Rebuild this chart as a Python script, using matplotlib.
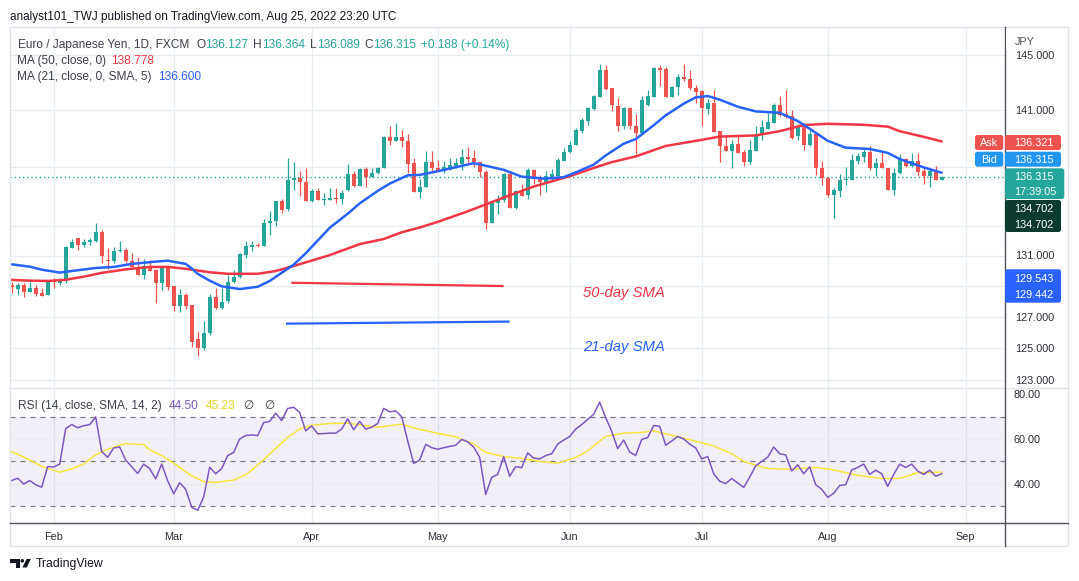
import numpy as np
import pandas as pd
import matplotlib
matplotlib.use('Agg')
import matplotlib.pyplot as plt
from matplotlib.patches import Rectangle, FancyBboxPatch, Polygon, Circle
from matplotlib.ticker import NullLocator

plt.rcParams['font.family'] = ['Liberation Sans', 'DejaVu Sans']

# ---------------- data ----------------
dates = pd.bdate_range('2022-01-21', '2022-08-26')

opens = [129.07, 128.83, 129.07, 128.63, 128.89, 128.53, 128.44, 129.33, 129.22, 129.33,
         131.49, 132.18, 131.69, 131.91, 131.95, 132.60, 130.73, 130.62, 131.29, 131.40,
         130.64, 130.22, 129.75, 130.33, 130.02, 129.22, 130.24, 129.00, 127.73, 128.42,
         127.77, 125.61, 125.04, 125.95, 128.31, 127.56, 128.05, 129.24, 129.58, 131.02,
         131.55, 131.73, 131.62, 133.15, 133.29, 134.63, 134.09, 136.07, 136.25, 135.98,
         134.65, 135.35, 134.72, 134.76, 134.90, 134.83, 135.44, 136.50, 135.71, 136.84,
         136.30, 136.57, 136.91, 139.08, 138.78, 139.08, 138.78, 137.25, 135.30, 135.60,
         137.37, 136.91, 136.73, 136.91, 137.07, 137.20, 137.68, 137.60, 137.33, 136.64,
         133.16, 134.54, 134.70, 136.52, 134.20, 135.33, 135.10, 136.80, 136.20, 135.94,
         136.17, 136.35, 137.44, 138.07, 138.50, 139.53, 140.25, 141.07, 141.93, 143.88,
         142.60, 141.28, 139.90, 141.16, 139.88, 139.40, 141.35, 141.93, 144.00, 143.93,
         141.93, 142.63, 143.40, 143.20, 142.55, 142.33, 141.07, 141.47, 139.53, 138.48,
         138.14, 138.60, 138.03, 137.37, 138.14, 139.25, 139.67, 140.10, 141.35, 140.70,
         140.58, 139.14, 139.95, 138.52, 139.30, 136.90, 136.23, 135.05, 135.37, 136.07,
         136.12, 137.40, 137.70, 138.07, 136.90, 137.28, 136.90, 135.44, 136.60, 137.54,
         137.10, 137.43, 136.73, 136.35, 136.73, 136.127]
highs = [129.29, 129.22, 129.18, 129.29, 129.07, 128.85, 129.40, 129.55, 129.55, 131.62,
         132.13, 132.18, 132.07, 132.18, 133.20, 132.69, 131.47, 131.58, 132.00, 131.53,
         131.18, 130.91, 130.80, 130.73, 130.11, 130.33, 130.30, 129.00, 128.79, 128.53,
         127.77, 126.11, 126.74, 128.48, 128.85, 128.90, 129.69, 130.07, 131.18, 132.00,
         132.00, 131.84, 133.41, 133.97, 134.69, 134.83, 137.60, 137.37, 136.73, 136.93,
         135.50, 135.55, 135.20, 135.55, 135.55, 135.44, 137.20, 136.73, 136.95, 136.98,
         136.96, 137.00, 139.18, 139.83, 140.10, 139.60, 139.30, 137.60, 136.20, 138.08,
         138.08, 137.50, 137.40, 137.60, 137.60, 138.24, 138.38, 138.17, 137.33, 136.80,
         134.60, 135.10, 136.60, 136.68, 135.44, 135.83, 136.90, 136.84, 136.45, 136.70,
         136.84, 137.60, 138.35, 138.78, 139.70, 140.40, 141.23, 142.07, 144.28, 144.23,
         142.60, 141.86, 141.23, 141.23, 140.70, 142.00, 142.45, 144.07, 144.23, 144.07,
         142.75, 143.57, 144.28, 143.88, 142.80, 142.40, 141.77, 142.40, 139.53, 139.18,
         138.85, 139.25, 138.17, 138.90, 139.88, 140.30, 140.77, 141.47, 142.00, 142.40,
         141.00, 140.00, 140.07, 139.60, 139.35, 137.40, 136.30, 135.55, 136.50, 137.00,
         137.87, 137.94, 138.38, 138.45, 137.65, 138.07, 136.90, 136.95, 137.90, 137.65,
         138.00, 138.00, 137.02, 136.90, 137.07, 136.364]
lows = [128.57, 128.42, 128.31, 128.59, 128.37, 128.37, 128.42, 128.89, 129.07, 129.22,
        131.49, 131.40, 131.55, 131.69, 131.91, 130.51, 130.13, 130.51, 131.22, 130.51,
        130.24, 129.75, 129.45, 129.95, 127.92, 128.74, 128.74, 127.40, 127.34, 127.53,
        125.08, 124.54, 124.90, 125.84, 127.52, 127.50, 127.90, 129.20, 129.55, 130.84,
        131.29, 131.55, 131.62, 132.40, 133.00, 133.86, 134.00, 135.40, 134.99, 134.65,
        134.60, 134.70, 134.38, 134.76, 134.54, 134.47, 135.35, 135.60, 135.70, 135.60,
        136.30, 136.50, 136.90, 138.50, 138.78, 138.40, 136.57, 135.30, 134.90, 135.60,
        136.60, 136.70, 136.60, 136.80, 136.95, 136.80, 137.20, 137.00, 136.28, 132.80,
        133.16, 133.80, 134.60, 134.20, 134.10, 134.99, 134.77, 135.80, 135.10, 135.30,
        136.10, 136.35, 137.40, 138.00, 138.50, 139.40, 139.95, 141.00, 141.90, 142.40,
        140.90, 139.50, 139.67, 139.67, 137.90, 139.30, 141.30, 141.93, 142.75, 141.93,
        141.90, 142.05, 143.10, 142.45, 141.47, 139.90, 140.70, 139.47, 137.37, 138.10,
        136.90, 138.00, 137.10, 137.20, 138.10, 138.85, 139.67, 140.07, 140.60, 140.40,
        138.95, 138.90, 138.19, 138.45, 136.45, 135.73, 134.95, 133.50, 134.95, 135.73,
        136.12, 137.20, 137.37, 136.80, 136.40, 136.90, 135.40, 135.10, 136.50, 136.98,
        137.00, 136.40, 135.80, 135.60, 136.10, 136.089]
closes = [128.92, 129.07, 128.63, 128.87, 128.50, 128.37, 129.33, 129.25, 129.40, 131.55,
          131.93, 131.69, 131.93, 132.02, 132.60, 130.95, 130.62, 131.33, 131.40, 130.62,
          130.24, 129.75, 130.33, 129.98, 129.22, 130.24, 128.95, 127.73, 128.42, 127.73,
          125.41, 125.04, 125.97, 128.31, 127.56, 127.99, 129.24, 129.62, 131.11, 131.62,
          131.73, 131.62, 133.18, 133.34, 134.63, 134.04, 136.12, 136.25, 135.94, 134.65,
          135.35, 134.70, 134.81, 134.90, 134.83, 135.22, 136.50, 135.71, 136.84, 136.30,
          136.57, 136.91, 139.08, 138.78, 139.08, 138.78, 137.20, 135.30, 135.64, 137.37,
          136.91, 136.73, 136.98, 137.14, 137.26, 137.68, 137.56, 137.33, 136.64, 133.16,
          134.54, 134.81, 136.52, 134.20, 135.33, 134.99, 136.80, 136.17, 135.94, 136.35,
          136.52, 137.45, 138.07, 138.54, 139.60, 140.30, 141.16, 142.00, 143.88, 142.52,
          141.35, 139.90, 141.16, 139.83, 139.40, 141.70, 142.00, 144.00, 143.88, 141.93,
          142.68, 143.40, 143.20, 142.55, 142.27, 141.12, 141.47, 139.47, 138.43, 138.14,
          138.60, 138.00, 137.37, 138.19, 139.25, 139.76, 140.18, 141.35, 140.65, 140.53,
          139.00, 139.76, 138.52, 139.30, 136.90, 136.23, 135.05, 135.44, 136.10, 136.19,
          137.47, 137.73, 138.07, 136.90, 137.28, 136.90, 135.44, 136.57, 137.54, 137.10,
          137.43, 136.68, 136.35, 136.73, 136.127, 136.315]

# moving averages, read at sample bars (bar index, value)
ma21_idx = [0, 3, 5, 8, 10, 14, 17, 20, 24, 26, 29, 30, 31, 33, 35, 38, 41, 43, 47, 49,
            53, 56, 58, 61, 63, 66, 68, 71, 74, 77, 78, 82, 85, 89, 92, 94, 97, 99, 102, 104,
            107, 109, 112, 114, 116, 118, 121, 124, 128, 131, 133, 136, 139, 143, 146, 148, 152, 155]
ma21_val = [130.42, 130.27, 130.07, 129.88, 129.98, 130.18, 130.25, 130.45, 130.60, 130.66,
            130.45, 130.15, 129.80, 129.35, 128.98, 128.80, 128.95, 129.33, 130.40, 131.15,
            132.85, 133.80, 134.50, 135.35, 135.85, 136.42, 136.45, 136.70, 136.98, 137.26,
            137.18, 136.80, 136.33, 136.19, 136.30, 136.62, 137.16, 137.80, 138.62, 138.94,
            139.92, 140.62, 141.45, 141.90, 142.00, 141.74, 141.24, 140.90, 140.80, 140.22,
            139.67, 138.82, 138.34, 138.25, 137.98, 137.55, 136.97, 136.60]
ma50_idx = [0, 3, 6, 9, 12, 15, 19, 23, 26, 29, 33, 36, 41, 44, 47, 53, 58, 62, 65, 68,
            71, 76, 82, 87, 93, 97, 100, 104, 109, 115, 118, 124, 128, 132, 136, 142, 146, 148,
            152, 155]
ma50_val = [129.40, 129.35, 129.33, 129.41, 129.61, 129.86, 130.09, 130.25, 130.25, 130.13,
            129.90, 129.80, 129.80, 129.98, 130.31, 131.03, 131.76, 132.10, 132.55, 132.87,
            133.25, 133.96, 134.90, 135.65, 136.36, 136.93, 137.33, 137.73, 138.46, 138.89,
            139.12, 139.20, 139.50, 139.93, 140.02, 139.95, 139.82, 139.50, 139.10, 138.78]

rsi = [41.5, 42.5, 39.9, 41.5, 39.6, 38.5, 47.7, 47.5, 48.8, 64.6,
       66.4, 65.0, 65.9, 66.4, 69.8, 54.4, 51.8, 56.0, 56.4, 50.6,
       47.7, 44.6, 48.8, 46.8, 42.2, 48.8, 41.4, 35.6, 40.5, 37.6,
       29.6, 28.2, 34.2, 47.4, 44.5, 46.8, 52.6, 54.0, 60.0, 61.5,
       61.8, 61.5, 67.3, 67.8, 71.5, 68.2, 73.6, 74.1, 71.8, 63.6,
       65.8, 62.3, 62.4, 62.6, 62.6, 64.4, 69.0, 64.1, 67.8, 64.4,
       65.2, 66.9, 73.6, 72.1, 72.5, 69.9, 59.2, 49.1, 50.6, 57.6,
       56.1, 55.4, 56.1, 56.7, 57.2, 59.8, 58.7, 56.4, 51.8, 35.3,
       42.9, 44.2, 52.1, 43.4, 47.7, 47.2, 53.8, 51.5, 51.1, 52.6,
       53.4, 57.7, 59.5, 61.1, 64.4, 66.4, 68.7, 71.0, 76.4, 69.5,
       63.4, 55.7, 59.5, 54.2, 52.6, 59.8, 60.6, 66.0, 65.6, 57.2,
       59.1, 61.1, 60.0, 57.7, 56.0, 51.1, 52.2, 44.5, 41.2, 40.1,
       42.4, 40.4, 38.4, 43.0, 48.0, 50.0, 51.9, 56.4, 53.4, 52.9,
       45.7, 48.5, 44.5, 47.6, 39.6, 37.6, 34.0, 35.8, 39.3, 39.6,
       46.2, 47.3, 48.8, 44.2, 46.1, 44.5, 38.9, 44.2, 48.8, 47.3,
       48.8, 45.7, 44.2, 46.1, 43.4, 44.5]
rsi_ma_idx = [0, 3, 5, 8, 10, 12, 14, 16, 18, 19, 22, 23, 25, 27, 30, 32, 34, 37, 39, 41,
              43, 46, 48, 50, 53, 56, 59, 61, 65, 67, 70, 74, 77, 79, 82, 85, 88, 91, 94, 96,
              99, 102, 105, 107, 111, 114, 117, 120, 122, 126, 130, 134, 137, 141, 145, 148,
              151, 155]
rsi_ma_val = [54.4, 50.6, 47.8, 45.2, 46.7, 48.8, 53.0, 55.4, 57.2, 57.9, 57.5, 55.2, 52.6,
              49.2, 43.6, 41.0, 40.6, 41.7, 44.0, 48.3, 53.3, 60.7, 64.4, 66.1, 66.9, 67.0,
              65.9, 65.2, 66.6, 64.9, 63.1, 60.9, 57.8, 54.0, 52.2, 51.3, 50.0, 49.2, 51.8,
              54.7, 61.1, 62.6, 62.9, 63.6, 61.0, 59.0, 56.9, 53.4, 50.0, 46.8, 46.5, 47.3,
              46.2, 43.8, 42.4, 42.4, 45.0, 45.23]

grid_prices = [145, 141, 137, 133, 131, 129, 127, 125, 123]
price_labels = [145, 141, 131, 127, 125, 123]
rsi_labels = [80, 60, 40]
month_names = ['Feb', 'Mar', 'Apr', 'May', 'Jun', 'Jul', 'Aug', 'Sep']
last_price = 136.315
sma50_line = ([46.8, 81.8], [129.21, 129.00])
sma21_line = ([45.9, 82.8], [126.57, 126.70])
ohlc_header = [('O', '136.127'), ('H', '136.364'), ('L', '136.089'), ('C', '136.315')]

# ---------------- style ----------------
GREEN, RED = '#26a69a', '#ef5350'
MA50C, MA21C = '#f23645', '#2962ff'
GRID = '#e8edf3'
TXT = '#2a2e39'
FRAME = '#e0e3eb'
AXL = '#50535e'

W, H = 1079, 581
fig = plt.figure(figsize=(W / 100, H / 100), dpi=100)
fig.patch.set_facecolor('white')
L, R = 10, 1005
TOP, MID, BOT = 27, 388, 522.7


def axrect(y0, y1):
    return [L / W, 1 - y1 / H, (R - L) / W, (y1 - y0) / H]


ax = fig.add_axes(axrect(TOP, MID))
rx = fig.add_axes(axrect(MID, BOT))
for a in (ax, rx):
    for s in a.spines.values():
        s.set_visible(False)
    a.set_xlim(-0.28, 165.55)
    a.set_xticks([])
    a.set_yticks([])
ax.set_yscale('log')
ax.set_ylim(122.52, 147.04)
ax.yaxis.set_major_locator(NullLocator())
ax.yaxis.set_minor_locator(NullLocator())

full = pd.bdate_range('2022-01-21', '2022-09-30')
month_pos = [int(np.argmax(np.asarray(full.month) == m)) for m in range(2, 10)]

for p in grid_prices:
    ax.axhline(p, color=GRID, lw=1, zorder=0)
for m in month_pos:
    ax.axvline(m, color=GRID, lw=1, zorder=0)
    rx.axvline(m, color=GRID, lw=1, zorder=0)

# candles
x = np.arange(len(dates))
o, h, l, c = map(np.asarray, (opens, highs, lows, closes))
cols = np.where(c >= o, GREEN, RED)
ax.vlines(x, l, h, colors=cols, lw=0.9, zorder=2)
body_lo = np.minimum(o, c)
body_h = np.maximum(np.abs(c - o), 0.03)
ax.bar(x, body_h, bottom=body_lo, width=0.7, color=cols, lw=0, zorder=3)

ax.plot(ma50_idx, ma50_val, color=MA50C, lw=1.8, zorder=4, solid_capstyle='round')
ax.plot(ma21_idx, ma21_val, color=MA21C, lw=1.8, zorder=4, solid_capstyle='round')
ax.axhline(last_price, color=GREEN, lw=1.0, ls=(0, (1, 2)), zorder=1)
ax.plot(*sma50_line, color=MA50C, lw=1.6, zorder=4)
ax.plot(*sma21_line, color=MA21C, lw=1.6, zorder=4)

# RSI pane
rx.set_ylim(22.7, 82.7)
rx.axhspan(30, 70, color='#7e57c2', alpha=0.09, lw=0, zorder=0)
for v in (60, 40):
    rx.axhline(v, color=GRID, lw=1, zorder=0.5)
for v in (70, 50, 30):
    rx.axhline(v, color='#787b86', lw=0.9, ls=(0, (4, 4)), zorder=1)
rx.plot(rsi_ma_idx, rsi_ma_val, color='#f7e63e', lw=1.1, zorder=2)
rx.plot(x, rsi, color='#7e57c2', lw=1.1, zorder=3)

# overlay in pixel coords
ov = fig.add_axes([0, 0, 1, 1])
ov.set_xlim(0, W)
ov.set_ylim(H, 0)
ov.axis('off')
ov.patch.set_alpha(0)
r = fig.canvas.get_renderer()


def txt(xp, yp, s, color=TXT, size=8.8, ha='left', **kw):
    base = yp + 0.36 * size * 100 / 72
    return ov.text(xp, base, s, color=color, fontsize=size, ha=ha, va='baseline', **kw)


def width(t):
    return t.get_window_extent(r).width


def measure(s, w, **kw):
    t = ov.text(0, 0, s, fontsize=10, **kw)
    ww = width(t)
    t.remove()
    return 10 * w / ww


# frame lines
ov.add_patch(Rectangle((10, 27), 1058, 519, fill=False, ec=FRAME, lw=1))
ov.plot([10, 1068], [MID, MID], color=FRAME, lw=1)
ov.plot([R, R], [27, 546], color=AXL, lw=1)
ov.plot([10, 1068], [BOT, BOT], color=AXL, lw=1)

s_ax = measure('141.000', 39)
s_leg = measure('Euro / Japanese Yen, 1D, FXCM', 172.5)
s_title = measure('analyst101_TWJ published on TradingView.com, Aug 25, 2022 23:20 UTC', 389)

# price axis labels
for p in price_labels:
    yp = H - ax.transData.transform((0, p))[1]
    txt(1015, yp, f'{p:.3f}', size=s_ax)
ov.add_patch(Rectangle((1006, 28), 61, 22.0, fc='white', ec='none', zorder=5))
txt(1015, 40.7, 'JPY', color='#50535e', size=s_ax, zorder=6)
for v in rsi_labels:
    yp = H - rx.transData.transform((0, v))[1]
    txt(1014, yp, f'{v:.2f}', size=s_ax)
for m, name in zip(month_pos, month_names):
    xp = ax.transData.transform((m, 130))[0]
    txt(xp, 536.5, name, size=s_ax, ha='center')


def tag(x0, x1, y0, y1, color, lines):
    ov.add_patch(FancyBboxPatch((x0, y0), x1 - x0, y1 - y0,
                                boxstyle='round,pad=0,rounding_size=2.5',
                                fc=color, ec='none', zorder=7))
    n = len(lines)
    for k, s in enumerate(lines):
        yc = y0 + (y1 - y0) * (k + 0.5) / n
        if x1 < 1004:
            txt((x0 + x1) / 2, yc, s, color='white', size=s_ax, ha='center', zorder=8)
        else:
            txt(1014, yc, s, color='white', size=s_ax, zorder=8)


tag(975, 1003.3, 135, 150, '#ef5350', ['Ask'])
tag(1005, 1061, 135, 150, '#ef5350', ['136.321'])
tag(975, 1003.3, 151.7, 166.7, '#2196f3', ['Bid'])
tag(1005, 1061, 151.7, 166.7, '#2196f3', ['136.315'])
tag(1005, 1064.3, 168.3, 199, '#26a69a', ['136.315', '17:39:05'])
tag(1005, 1061, 200, 232, '#0b3a2f', ['134.702', '134.702'])
tag(1005, 1061, 269.3, 302.7, '#2962ff', ['129.543', '129.442'])

# title and legends
txt(10.3, 15.5, 'analyst101_TWJ published on TradingView.com, Aug 25, 2022 23:20 UTC',
    color='#131722', size=s_title)
LG = '#3c404b'
t0 = txt(17.9, 44, 'Euro / Japanese Yen, 1D, FXCM', color=LG, size=s_leg)
xcur = 17.9 + width(t0) + 7
for lab, val in ohlc_header:
    tl = txt(xcur, 44, lab, color=LG, size=s_leg)
    xcur += width(tl)
    tv = txt(xcur, 44, val, color=GREEN, size=s_leg)
    xcur += width(tv) + 5
txt(xcur, 44, '+0.188 (+0.14%)', color=GREEN, size=s_leg)

ta = txt(17.3, 59.5, 'MA (50, close, 0)', color=LG, size=s_leg)
txt(17.3 + width(ta) + 5, 59.5, '138.778', color=MA50C, size=s_leg)
tb = txt(17.3, 76, 'MA (21, close, 0, SMA, 5)', color=LG, size=s_leg)
txt(17.3 + width(tb) + 6, 76, '136.600', color=MA21C, size=s_leg)

tr = txt(17.9, 405, 'RSI (14, close, SMA, 14, 2)', color=LG, size=s_leg)
xr = 17.9 + width(tr) + 7
t4 = txt(xr, 405, '44.50', color='#7e57c2', size=s_leg)
xr += width(t4) + 7
t5 = txt(xr, 405, '45.23', color='#e8d528', size=s_leg)
xr += width(t5) + 8
t6 = txt(xr, 405, '\u2205', color=LG, size=s_leg, family=['DejaVu Sans'])
xr += width(t6) + 11
txt(xr, 405, '\u2205', color=LG, size=s_leg, family=['DejaVu Sans'])

# annotations on the chart
s_ann = measure('50-day SMA', 82, style='italic')
ax.text(95.2, 128.53, '50-day SMA', color=MA50C, style='italic', fontsize=s_ann,
        va='center', ha='left')
ax.text(95.2, 125.08, '21-day SMA', color=MA21C, style='italic', fontsize=s_ann,
        va='center', ha='left')

# footer
s_foot = measure('TradingView', 68)
txt(36, 563, 'TradingView', color='#131722', size=s_foot)
ov.add_patch(Polygon([(10, 559), (19.5, 559), (19.5, 567.5), (15.5, 567.5), (15.5, 562.5), (10, 562.5)],
                     closed=True, fc='#131722', ec='none'))
ov.add_patch(Circle((22.3, 560.8), 1.8, fc='#131722', ec='none'))
ov.add_patch(Polygon([(26.5, 559), (30.8, 559), (26.8, 567.5), (22.5, 567.5)],
                     closed=True, fc='#131722', ec='none'))

fig.savefig('out.png', dpi=100, facecolor='white')
